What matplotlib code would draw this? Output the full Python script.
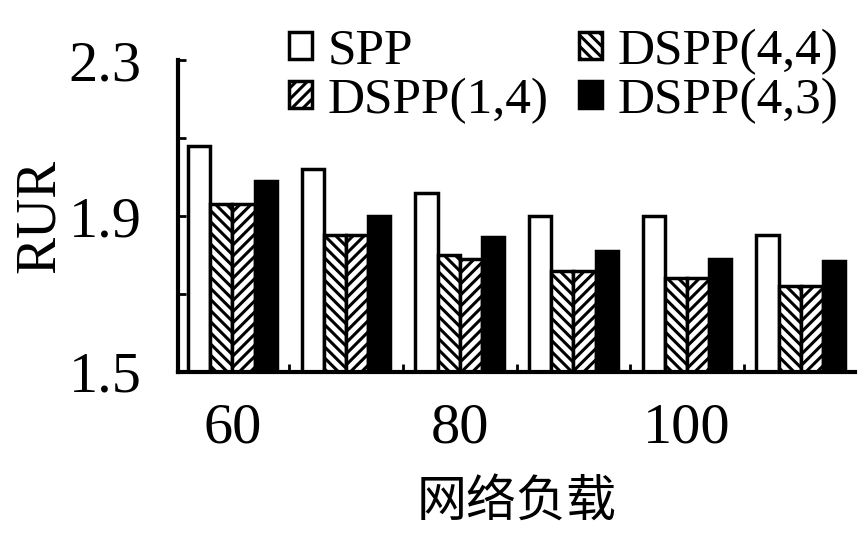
import matplotlib
matplotlib.use("Agg")
import matplotlib.pyplot as plt
import numpy as np

# data
loads = [60, 70, 80, 90, 100, 110]
tick_labels = ["60", "", "80", "", "100", ""]
spp = [2.08, 2.02, 1.96, 1.90, 1.90, 1.85]
dspp_44 = [1.93, 1.85, 1.80, 1.76, 1.74, 1.72]
dspp_14 = [1.93, 1.85, 1.79, 1.76, 1.74, 1.72]
dspp_43 = [1.99, 1.90, 1.845, 1.81, 1.79, 1.785]

plt.rcParams['font.family'] = ['Liberation Serif', 'Noto Sans CJK SC']
plt.rcParams['hatch.linewidth'] = 2.2
plt.rcParams['hatch.color'] = 'black'

fig = plt.figure(figsize=(8.63, 5.38), dpi=100)
ax = fig.add_axes([0.206, 0.309, 0.785, 0.579])

x = np.arange(len(loads))
w = 0.195
b1 = ax.bar(x - 1.5 * w, spp, w, color='white', edgecolor='black', linewidth=2.5, label='SPP')
b2 = ax.bar(x - 0.5 * w, dspp_44, w, color='white', edgecolor='black', linewidth=2.5, hatch='\\\\\\', label='DSPP(4,4)')
b3 = ax.bar(x + 0.5 * w, dspp_14, w, color='white', edgecolor='black', linewidth=2.5, hatch='///', label='DSPP(1,4)')
b4 = ax.bar(x + 1.5 * w, dspp_43, w, color='black', edgecolor='black', linewidth=2.5, label='DSPP(4,3)')

ax.set_ylim(1.5, 2.3)
ax.set_xlim(-0.48, 5.48)
ax.set_yticks([1.5, 1.7, 1.9, 2.1, 2.3])
ax.set_yticklabels(['1.5', '', '1.9', '', '2.3'])
ax.set_xticks(x)
ax.set_xticklabels(tick_labels)
ax.set_xticks(x[:-1] + 0.5, minor=True)
ax.tick_params(axis='both', which='major', labelsize=42, direction='in', length=6, width=2)
ax.tick_params(axis='x', which='major', length=0, pad=22)
ax.tick_params(axis='x', which='minor', direction='in', length=6, width=2)
ax.tick_params(axis='y', pad=26)

for s in ['top', 'right']:
    ax.spines[s].set_visible(False)
for s in ['left', 'bottom']:
    ax.spines[s].set_linewidth(3)

ax.set_ylabel('RUR', fontsize=40, labelpad=2)
ax.set_xlabel('网络负载', fontsize=36, labelpad=18)

fig.legend([b1, b3, b2, b4], ['SPP', 'DSPP(1,4)', 'DSPP(4,4)', 'DSPP(4,3)'],
           ncol=2, loc='upper left', bbox_to_anchor=(0.305, 0.995), frameon=False,
           fontsize=37, handlelength=0.45, handleheight=0.45, handletextpad=0.3,
           columnspacing=0.6, labelspacing=0.05, borderpad=0)

fig.savefig('out.png', dpi=100)
